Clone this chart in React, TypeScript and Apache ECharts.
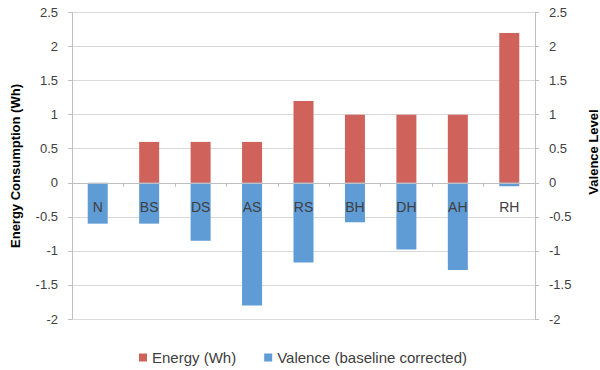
import React, { useEffect, useRef } from "react";
import * as echarts from "echarts";

const categories = ["N", "BS", "DS", "AS", "RS", "BH", "DH", "AH", "RH"];
const energy = [0, 0.6, 0.6, 0.6, 1.2, 1.0, 1.0, 1.0, 2.2];
const valence = [-0.6, -0.6, -0.85, -1.8, -1.17, -0.58, -0.98, -1.28, -0.05];
const seriesNames = ["Energy (Wh)", "Valence (baseline corrected)"];
const leftTitle = "Energy Consumption (Wh)";
const rightTitle = "Valence Level";
const yMin = -2;
const yMax = 2.5;
const yStep = 0.5;

const RED = "#D0625C";
const BLUE = "#5F9BD4";
const AXIS = "#BFBFBF";
const TEXT = "#404040";
const FONT = "'Liberation Sans', Arial, sans-serif";

const GRID_TOP = 12.5;
const GRID_BOTTOM = 51;
const H = 370;

export default function App() {
  const ref = useRef<HTMLDivElement>(null);
  useEffect(() => {
    if (!ref.current) return;
    const chart = echarts.init(ref.current, undefined, { renderer: "svg" });
    const plotH = H - GRID_TOP - GRID_BOTTOM;
    // move the category axis up to the zero line of the value axis
    const zeroOffset = -plotH * ((0 - yMin) / (yMax - yMin));
    const yCommon = {
      type: "value",
      min: yMin,
      max: yMax,
      interval: yStep,
      axisLine: { show: true, onZero: false, lineStyle: { color: AXIS } },
      axisTick: { show: true, length: 4, lineStyle: { color: AXIS } },
      axisLabel: { color: TEXT, fontSize: 13, fontFamily: FONT, margin: 14 },
    };
    chart.setOption({
      animation: false,
      textStyle: { fontFamily: FONT },
      grid: { left: 72, right: 65, top: GRID_TOP, bottom: GRID_BOTTOM, containLabel: false },
      legend: {
        data: seriesNames,
        left: 134,
        top: 345,
        icon: "rect",
        itemWidth: 8,
        itemHeight: 8,
        itemGap: 28,
        textStyle: { color: TEXT, fontSize: 15, fontFamily: FONT },
      },
      xAxis: {
        type: "category",
        data: categories,
        position: "bottom",
        offset: zeroOffset,
        z: 5,
        axisLine: { show: true, onZero: false, lineStyle: { color: AXIS } },
        axisTick: { show: true, length: 4, alignWithLabel: false, lineStyle: { color: AXIS } },
        axisLabel: { color: TEXT, fontSize: 14, fontFamily: FONT, margin: 17 },
        splitLine: { show: false },
      },
      yAxis: [
        {
          ...yCommon,
          position: "left",
          splitLine: { show: true, lineStyle: { color: "#D9D9D9" } },
        },
        {
          ...yCommon,
          position: "right",
          splitLine: { show: false },
        },
      ],
      series: [
        {
          name: seriesNames[0],
          type: "bar",
          yAxisIndex: 0,
          data: energy,
          barWidth: 20,
          barGap: "-100%",
          itemStyle: { color: RED },
        },
        {
          name: seriesNames[1],
          type: "bar",
          yAxisIndex: 1,
          data: valence,
          barWidth: 20,
          barGap: "-100%",
          itemStyle: { color: BLUE },
        },
      ],
      graphic: [
        {
          type: "text",
          x: 15,
          y: 166,
          rotation: Math.PI / 2,
          style: {
            text: leftTitle,
            fill: "#000",
            font: `bold 13px ${FONT}`,
            align: "center",
            verticalAlign: "middle",
          },
        },
        {
          type: "text",
          x: 593,
          y: 152,
          rotation: Math.PI / 2,
          style: {
            text: rightTitle,
            fill: "#000",
            font: `bold 13px ${FONT}`,
            align: "center",
            verticalAlign: "middle",
          },
        },
      ],
    });
    return () => chart.dispose();
  }, []);
  return (
    <div
      ref={ref}
      style={{ position: "fixed", left: 0, top: 0, width: 600, height: 370, background: "#fff" }}
    />
  );
}
